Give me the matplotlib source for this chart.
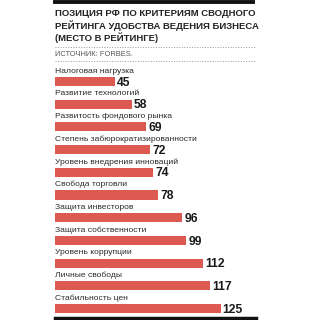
import numpy as np
import matplotlib
matplotlib.use('Agg')
from matplotlib import pyplot as plt
from matplotlib.lines import Line2D

plt.rcParams['font.family'] = ['Liberation Sans Narrow', 'Liberation Sans', 'DejaVu Sans']

# данные
criteria = ['Налоговая нагрузка', 'Развитие технологий', 'Развитость фондового рынка',
            'Степень забюрократизированности', 'Уровень внедрения инноваций',
            'Свобода торговли', 'Защита инвесторов', 'Защита собственности',
            'Уровень коррупции', 'Личные свободы', 'Стабильность цен']
places = [45, 58, 69, 72, 74, 78, 96, 99, 112, 117, 125]

title = 'ПОЗИЦИЯ РФ ПО КРИТЕРИЯМ СВОДНОГО\nРЕЙТИНГА УДОБСТВА ВЕДЕНИЯ БИЗНЕСА\n(МЕСТО В РЕЙТИНГЕ)'
source = 'ИСТОЧНИК: FORBES.'

W, H = 311, 320
fig = plt.figure(figsize=(W / 100, H / 100), dpi=100)

# оси в пикселях
left, right, top, bottom = 55, 256, 62, 318
ax = fig.add_axes([left / W, 1 - bottom / H, (right - left) / W, (bottom - top) / H])

y = np.arange(len(places))
ax.barh(y, places, height=0.4, color='#dc5a52', align='center')
ax.set_xlim(0, (right - left) / 1.325)
step = 22.7
y0 = (81.5 - top) / step
ax.set_ylim((bottom - top) / step - y0, -y0)

for i, (name, v) in enumerate(zip(criteria, places)):
    ax.text(0, i - 0.46, name, fontsize=6.1, color='#2a2a2a', va='center', ha='left')
    ax.text(v + 1.5, i + 0.05, str(v), fontsize=8.7, fontweight='bold', color='#1a1a1a',
            va='center', ha='left')

for s in ['top', 'right', 'left']:
    ax.spines[s].set_visible(False)
ax.spines['bottom'].set_linewidth(2.5)
ax.spines['bottom'].set_color('#111111')
ax.set_xticks([])
ax.set_yticks([])

# шапка
fig.add_artist(Line2D([left / W, 253 / W], [1 - 1.5 / H, 1 - 1.5 / H], color='#111111', lw=2.8))
fig.text(left / W, 1 - 9.5 / H, title, fontsize=6.8, fontweight='bold', color='#222222',
         va='top', ha='left', linespacing=1.15)
fig.add_artist(Line2D([left / W, right / W], [1 - 47 / H, 1 - 47 / H], color='#999999', lw=0.7, ls=':'))
fig.text(left / W, 1 - 54 / H, source, fontsize=5.4, color='#555555', va='center', ha='left')
fig.add_artist(Line2D([left / W, right / W], [1 - 61 / H, 1 - 61 / H], color='#999999', lw=0.7, ls=':'))

fig.savefig('out.png', dpi=100, facecolor='white')
